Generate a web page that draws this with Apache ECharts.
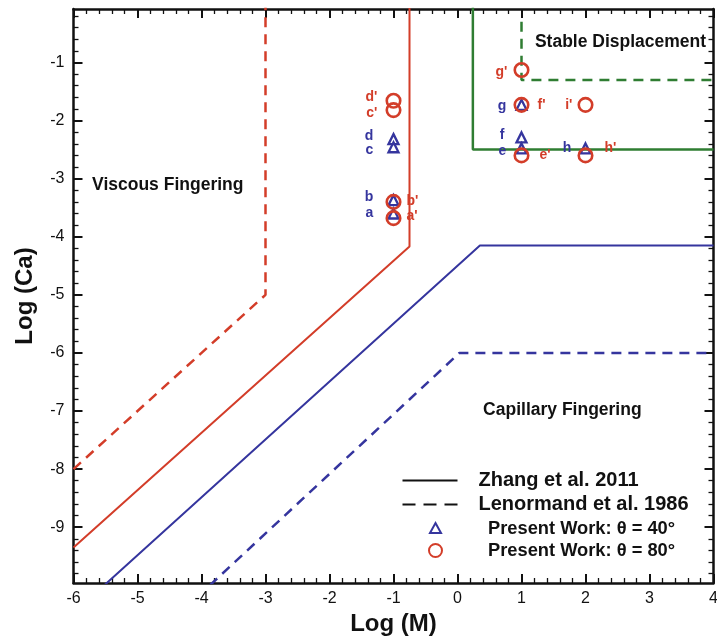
<!DOCTYPE html>
<html><head><meta charset="utf-8">
<script src="https://cdn.jsdelivr.net/npm/echarts@6/dist/echarts.min.js"></script>
<style>html,body{margin:0;padding:0;background:#fff}#c{width:717px;height:636px}</style>
</head><body><div id="c"></div>
<script>
// ---- axis ticks ----
const xMin = -6, xMax = 4;
const yMin = -9.96, yMax = -0.08;
const yTickValues = [-9, -8, -7, -6, -5, -4, -3, -2, -1];

// ---- regime boundary curves [logM, logCa] ----
const zhangRed = [[-6, -9.35], [-0.75, -4.17], [-0.75, 0]];
const zhangBlue = [[-5.52, -10], [0.35, -4.15], [4, -4.15]];
const lenormandRed = [[-6, -8.0], [-3, -5.0], [-3, 0]];
const lenormandBlue = [[-3.87, -10], [0.03, -6], [4, -6]];
const stableSolid = [[0.24, 0], [0.24, -2.5], [4, -2.5]];
const stableDashed = [[1, -0.3], [1, -1.3], [4, -1.3]];

// ---- present work points ----
const theta40Names = ['a', 'b', 'c', 'd', 'e', 'f', 'g', 'h'];
const theta40X = [-1, -1, -1, -1, 1, 1, 1, 2];
const theta40Y = [-3.60, -3.37, -2.46, -2.32, -2.48, -2.29, -1.73, -2.48];
const theta80Names = ["a'", "b'", "c'", "d'", "e'", "f'", "g'", "h'", "i'"];
const theta80X = [-1, -1, -1, -1, 1, 1, 1, 2, 2];
const theta80Y = [-3.68, -3.40, -1.82, -1.66, -2.60, -1.73, -1.13, -2.60, -1.73];

// ---- region annotations ----
const regionNames = ['Viscous Fingering', 'Stable Displacement', 'Capillary Fingering'];
const regionX = [-5.71, 1.21, 0.40];
const regionY = [-3.11, -0.65, -6.98];

// ---- styling / label placement (not data) ----
const RED = '#d33d29', BLUE = '#35359e', GREEN = '#2f7d32', BLACK = '#111';
const FONT = "'Liberation Sans', Arial, Helvetica, sans-serif";
const labelLayout40 = {a:['left',14,0], b:['left',14,-3], c:['left',14,3], d:['left',14,-3],
  e:['left',9,3], f:['left',11,-2], g:['left',9,1], h:['left',8,0]};
const labelLayout80 = {"a'":['right',5,-2], "b'":['right',5,-1], "c'":['left',8,3], "d'":['left',8,-4],
  "e'":['right',10,0], "f'":['right',8,0], "g'":['left',6,2], "h'":['right',11,-7], "i'":['left',5,0]};

const yMinorTickValues = [];
for (let i = -49; i <= -1; i++) { if (i % 5 !== 0) yMinorTickValues.push(Math.round(i * 20) / 100); }

function pts(names, xs, ys, layout, color) {
  return names.map((n, i) => {
    const l = layout[n];
    return { name: n, value: [xs[i], ys[i]],
      label: { position: l[0], distance: l[1], offset: [0, l[2]], color: color } };
  });
}

const axisLine = { show: true, onZero: false, lineStyle: { color: BLACK, width: 2.5 } };
function xAxisDef(pos, withLabels) {
  return { type: 'value', position: pos, min: xMin, max: xMax, interval: 1,
    axisLine: axisLine, splitLine: { show: false },
    axisTick: { show: true, inside: true, length: 9, lineStyle: { color: BLACK, width: 2 } },
    minorTick: { show: true, splitNumber: 5, length: 5, lineStyle: { color: BLACK, width: 1.3 } },
    axisLabel: { show: withLabels, color: BLACK, fontSize: 16, fontFamily: FONT, margin: 8 },
    name: withLabels ? 'Log (M)' : '', nameLocation: 'middle', nameGap: 23,
    nameTextStyle: { fontSize: 24, fontWeight: 'bold', color: BLACK, fontFamily: FONT } };
}
function yAxisDef(pos, major, withLabels) {
  return { type: 'value', position: pos, min: yMin, max: yMax,
    axisLine: major ? axisLine : { show: false, onZero: false }, splitLine: { show: false },
    axisTick: { show: true, inside: true, length: major ? 9 : 5,
      customValues: major ? yTickValues : yMinorTickValues,
      lineStyle: { color: BLACK, width: major ? 2 : 1.3 } },
    axisLabel: { show: withLabels, customValues: yTickValues, color: BLACK, fontSize: 16, fontFamily: FONT, margin: 9 },
    name: withLabels ? 'Log (Ca)' : '', nameLocation: 'middle', nameGap: 36, nameRotate: 90,
    nameTextStyle: { fontSize: 24, fontWeight: 'bold', color: BLACK, fontFamily: FONT } };
}
function lineSeries(name, data, color, dashed, width) {
  return { type: 'line', name: name, data: data, symbol: 'none', silent: true, z: 2,
    lineStyle: { color: color, width: width, type: dashed ? [10, 7] : 'solid' } };
}
const hiddenSym = { color: 'rgba(0,0,0,0)', borderColor: 'rgba(0,0,0,0)', borderWidth: 0 };
const legendText = { fontWeight: 'bold', color: BLACK, fontFamily: FONT };

const chart = echarts.init(document.getElementById('c'), null, { renderer: 'canvas' });
chart.setOption({
  animation: false,
  backgroundColor: '#fff',
  grid: { left: 73.5, right: 3.5, top: 9, bottom: 53, containLabel: false, outerBoundsMode: 'none' },
  xAxis: [xAxisDef('bottom', true), xAxisDef('top', false)],
  yAxis: [yAxisDef('left', true, true), yAxisDef('left', false, false),
          yAxisDef('right', true, false), yAxisDef('right', false, false)],
  legend: [{
    show: true, orient: 'vertical', left: 401.5, top: 470.5, padding: 0,
    itemWidth: 55, itemHeight: 12, itemGap: 4, selectedMode: false,
    textStyle: Object.assign({ fontSize: 20, padding: [0, 0, 0, 16] }, legendText),
    data: [
      { name: 'Zhang et al. 2011', itemStyle: hiddenSym },
      { name: 'Lenormand et al. 1986', itemStyle: hiddenSym }
    ]
  }, {
    show: true, orient: 'vertical', left: 428, top: 519.5, padding: 0,
    itemWidth: 13, itemHeight: 13, itemGap: 4, selectedMode: false,
    textStyle: Object.assign({ fontSize: 18.3, padding: [0, 0, 0, 41] }, legendText),
    data: [
      { name: 'Present Work: θ = 40°', icon: 'path://M0,0M13,13M6.5,1L12,11L1,11Z' },
      { name: 'Present Work: θ = 80°' }
    ]
  }],
  series: [
    lineSeries('zhangRed', zhangRed, RED, false, 2),
    lineSeries('zhangBlue', zhangBlue, BLUE, false, 2),
    lineSeries('lenormandRed', lenormandRed, RED, true, 2.5),
    lineSeries('lenormandBlue', lenormandBlue, BLUE, true, 2.5),
    lineSeries('stableSolid', stableSolid, GREEN, false, 2.5),
    lineSeries('stableDashed', stableDashed, GREEN, true, 2.5),
    { type: 'line', name: 'Zhang et al. 2011', data: [], symbol: 'none',
      lineStyle: { color: BLACK, width: 2.5 }, itemStyle: { color: BLACK } },
    { type: 'line', name: 'Lenormand et al. 1986', data: [], symbol: 'none',
      lineStyle: { color: BLACK, width: 2.5, type: [13, 8] }, itemStyle: { color: BLACK } },
    { type: 'scatter', name: 'Present Work: θ = 40°', symbol: 'triangle', symbolSize: 10, z: 4,
      itemStyle: { color: 'rgba(0,0,0,0)', borderColor: BLUE, borderWidth: 2.3, opacity: 1 },
      label: { show: true, formatter: '{b}', fontSize: 14, fontWeight: 'bold', fontFamily: FONT },
      data: pts(theta40Names, theta40X, theta40Y, labelLayout40, BLUE) },
    { type: 'scatter', name: 'Present Work: θ = 80°', symbol: 'circle', symbolSize: 13.5, z: 5,
      itemStyle: { color: 'rgba(0,0,0,0)', borderColor: RED, borderWidth: 2.6, opacity: 1 },
      label: { show: true, formatter: '{b}', fontSize: 14, fontWeight: 'bold', fontFamily: FONT },
      data: pts(theta80Names, theta80X, theta80Y, labelLayout80, RED) },
    { type: 'scatter', name: 'regions', symbolSize: 0, silent: true, z: 6,
      itemStyle: { opacity: 1 },
      label: { show: true, position: 'right', distance: 0, formatter: '{b}', fontSize: 17.5,
        fontWeight: 'bold', color: BLACK, fontFamily: FONT },
      data: regionNames.map((n, i) => ({ name: n, value: [regionX[i], regionY[i]] })) }
  ]
});
</script></body></html>
